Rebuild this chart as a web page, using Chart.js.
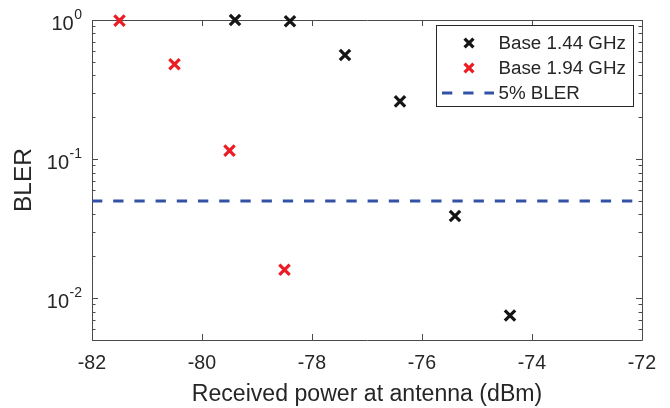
<!DOCTYPE html>
<html><head><meta charset="utf-8">
<script src="https://cdn.jsdelivr.net/npm/chart.js@4/dist/chart.umd.min.js"></script>
<style>html,body{margin:0;padding:0;background:#fff}#wrap{width:670px;height:408px}</style>
</head><body><div id="wrap"><canvas id="c" width="670" height="408"></canvas></div>
<script>
const powerBase144 = [-79.4, -78.4, -77.4, -76.4, -75.4, -74.4];
const blerBase144 = [1.0, 0.98, 0.56, 0.26, 0.039, 0.0075];
const powerBase194 = [-81.5, -80.5, -79.5, -78.5];
const blerBase194 = [0.99, 0.48, 0.115, 0.016];
const targetLinePower = [-82, -72];
const targetLineBler = [0.05, 0.05];
const xTicks = [-82, -80, -78, -76, -74, -72];
const yTickValues = [1, 0.1, 0.01];
const yTickExponents = ['0', '-1', '-2'];
const seriesLabels = ['Base 1.44 GHz', 'Base 1.94 GHz', '5% BLER'];
const xTitle = 'Received power at antenna (dBm)';
const yTitle = 'BLER';

const FONT = "'Liberation Sans', Arial, Helvetica, sans-serif";
const TEXT = '#262626';
const AXIS = '#4a4a4a';
const DASH = [10.3, 10.9];

const toPts = (xs, ys) => xs.map((x, i) => ({x: x, y: ys[i]}));

const axesPlugin = {
  id: 'axesBox',
  beforeDatasetsDraw(chart) {
    const {ctx, chartArea: a, scales: {x, y}} = chart;
    ctx.save();
    ctx.strokeStyle = AXIS;
    ctx.lineWidth = 1;
    ctx.beginPath();
    ctx.rect(a.left + 0.5, a.top + 0.5, a.right - a.left, a.bottom - a.top);
    ctx.stroke();
    ctx.beginPath();
    xTicks.forEach(v => {
      const px = Math.round(x.getPixelForValue(v)) + 0.5;
      ctx.moveTo(px, a.bottom); ctx.lineTo(px, a.bottom - 6);
      ctx.moveTo(px, a.top); ctx.lineTo(px, a.top + 6);
    });
    for (let k = -3; k <= 0; k++) {
      for (let m = 1; m <= 9; m++) {
        const v = m * Math.pow(10, k);
        if (v < y.min - 1e-12 || v > y.max + 1e-12) continue;
        const py = Math.round(y.getPixelForValue(v)) + 0.5;
        const len = m === 1 ? 6 : 3.5;
        ctx.moveTo(a.left, py); ctx.lineTo(a.left + len, py);
        ctx.moveTo(a.right, py); ctx.lineTo(a.right - len, py);
      }
    }
    ctx.stroke();
    ctx.restore();
  },
  afterDraw(chart) {
    const {ctx, chartArea: a, scales: {y}} = chart;
    ctx.save();
    ctx.fillStyle = TEXT;
    ctx.textBaseline = 'middle';
    yTickValues.forEach((v, i) => {
      const py = y.getPixelForValue(v);
      ctx.font = '14px ' + FONT;
      const sup = yTickExponents[i];
      const w = ctx.measureText(sup).width;
      const right = a.left - 10;
      ctx.textAlign = 'left';
      ctx.fillText(sup, right - w, py - 5);
      ctx.font = '20px ' + FONT;
      ctx.textAlign = 'right';
      ctx.fillText('10', right - w - 0.5, py + 4.5);
    });
    // legend
    const bx = 436.5, by = 25.5, bw = 197, bh = 81;
    ctx.fillStyle = '#ffffff';
    ctx.fillRect(bx, by, bw, bh);
    ctx.strokeStyle = TEXT;
    ctx.lineWidth = 1;
    ctx.strokeRect(bx, by, bw, bh);
    const rows = [43, 68, 93];
    chart.data.datasets.forEach((ds, i) => {
      const ry = rows[i];
      if (ds.type === 'line') {
        ctx.save();
        ctx.strokeStyle = ds.borderColor;
        ctx.lineWidth = ds.borderWidth;
        ctx.setLineDash(DASH);
        ctx.beginPath();
        ctx.moveTo(442, ry); ctx.lineTo(494, ry);
        ctx.stroke();
        ctx.restore();
      } else {
        ctx.save();
        ctx.strokeStyle = ds.borderColor;
        ctx.fillStyle = ds.backgroundColor;
        ctx.lineWidth = ds.pointBorderWidth;
        Chart.helpers.drawPoint(ctx, {pointStyle: ds.pointStyle, radius: 6.3, rotation: 0, borderWidth: ds.pointBorderWidth}, 469, ry);
        ctx.restore();
      }
      ctx.fillStyle = TEXT;
      ctx.font = '18.8px ' + FONT;
      ctx.textAlign = 'left';
      ctx.textBaseline = 'middle';
      ctx.fillText(ds.label, 498.5, ry + 1);
    });
    ctx.restore();
  }
};

new Chart(document.getElementById('c').getContext('2d'), {
  type: 'scatter',
  data: {
    datasets: [
      {label: seriesLabels[0], data: toPts(powerBase144, blerBase144), pointStyle: 'crossRot',
       pointRadius: 7.3, pointHoverRadius: 7.3, pointBorderWidth: 3.2, borderColor: '#151515', backgroundColor: '#151515', clip: false},
      {label: seriesLabels[1], data: toPts(powerBase194, blerBase194), pointStyle: 'crossRot',
       pointRadius: 7.3, pointHoverRadius: 7.3, pointBorderWidth: 3.2, borderColor: '#ec1c24', backgroundColor: '#ec1c24', clip: false},
      {type: 'line', label: seriesLabels[2], data: toPts(targetLinePower, targetLineBler), borderColor: '#3452a5',
       backgroundColor: '#3452a5', borderWidth: 3, borderDash: DASH, pointRadius: 0, fill: false, showLine: true}
    ]
  },
  options: {
    responsive: false, animation: false, devicePixelRatio: 1, events: [],
    layout: {padding: {left: 0, right: 28, top: 20, bottom: 0}},
    plugins: {legend: {display: false}, tooltip: {enabled: false}},
    scales: {
      x: {type: 'linear', min: -82, max: -72,
        afterBuildTicks: s => { s.ticks = xTicks.map(v => ({value: v})); },
        grid: {display: false, drawTicks: false}, border: {display: false},
        ticks: {color: TEXT, font: {family: FONT, size: 19.6}, padding: 12, maxRotation: 0, autoSkip: false},
        title: {display: true, text: xTitle, color: TEXT, font: {family: FONT, size: 23.1}, padding: {top: 0, bottom: 0}},
        afterFit: s => { s.height = 68; }
      },
      y: {type: 'logarithmic', min: 0.005, max: 1,
        grid: {display: false, drawTicks: false}, border: {display: false},
        ticks: {display: false},
        title: {display: true, text: yTitle, color: TEXT, font: {family: FONT, size: 24.5}, padding: {top: 10, bottom: 0}},
        afterFit: s => { s.width = 92; }
      }
    }
  },
  plugins: [axesPlugin]
});
</script>
</body></html>
